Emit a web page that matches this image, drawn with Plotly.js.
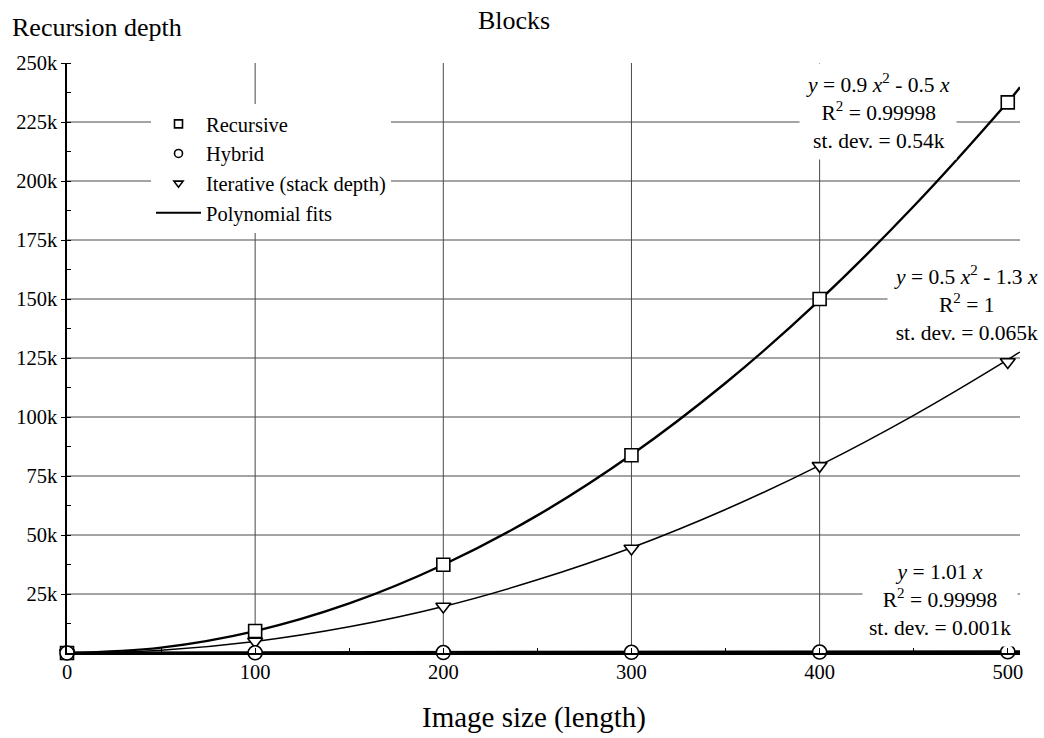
<!DOCTYPE html>
<html>
<head>
<meta charset="utf-8">
<script src="https://cdn.plot.ly/plotly-3.0.1.min.js"></script>
</head>
<body style="margin:0;background:#fff">
<div id="chart" style="width:1044px;height:738px"></div>
<script>
// ---- data ----
const sizes = [0, 100, 200, 300, 400, 500];
const recursive = [0, 9300, 37400, 83800, 150000, 233300];
const hybrid = [0, 101, 202, 303, 404, 505];
const iterative = [0, 4900, 19700, 44300, 79300, 123300];

const fitX = [0, 50, 100, 150, 200, 250, 300, 350, 400, 450, 500, 506.5];
const recursiveFit = [0, 2300, 9300, 21000, 37400, 58300, 84000, 114400, 149500, 189300, 233500, 239700];
const iterativeFit = [0, 1200, 4900, 11100, 19700, 31000, 44600, 60800, 79500, 100700, 124300, 127600];
const hybridFit = [0, 51, 101, 152, 202, 253, 303, 354, 404, 455, 505, 512];

const xTicks = [0, 100, 200, 300, 400, 500];
const yTickVals = [25000, 50000, 75000, 100000, 125000, 150000, 175000, 200000, 225000, 250000];
const yTickText = ['25k', '50k', '75k', '100k', '125k', '150k', '175k', '200k', '225k', '250k'];
const gridX = [100, 200, 300, 400];
const gridY = [25000, 50000, 75000, 100000, 125000, 150000, 175000, 200000, 225000];

const fitNotes = [
  {x: 878, y: 111, text: '<i>y</i> = 0.9 <i>x</i><sup>2</sup> - 0.5 <i>x</i><br>R<sup>2</sup> = 0.99998<br>st. dev. = 0.54k'},
  {x: 966, y: 303, text: '<i>y</i> = 0.5 <i>x</i><sup>2</sup> - 1.3 <i>x</i><br>R<sup>2</sup> = 1<br>st. dev. = 0.065k'},
  {x: 940, y: 600, text: '<i>y</i> = 1.01 <i>x</i><br>R<sup>2</sup> = 0.99998<br>st. dev. = 0.001k'}
];

// ---- layout geometry ----
const W = 1044, H = 738;
const mL = 67, mR = 24, mT = 63, mB = 85;
const pw = W - mL - mR, ph = H - mT - mB;
const px2x = p => (p - mL) / pw;
const py2y = p => (H - mB - p) / ph;

const FONT = 'Liberation Serif';
const mk = (sym, size) => ({symbol: sym, size: size, color: '#fff', line: {color: '#000', width: 1.6}});

const traces = [
  {x: fitX, y: hybridFit, mode: 'lines', line: {color: '#000', width: 3.2}, showlegend: false, hoverinfo: 'skip'},
  {x: fitX, y: iterativeFit, mode: 'lines', line: {color: '#000', width: 1.5, shape: 'spline'}, showlegend: false, hoverinfo: 'skip'},
  {x: fitX, y: recursiveFit, mode: 'lines', line: {color: '#000', width: 2.4, shape: 'spline'}, showlegend: false, hoverinfo: 'skip'},
  {x: sizes, y: iterative, mode: 'markers', marker: mk('triangle-down', 13), showlegend: false, cliponaxis: false},
  {x: sizes, y: recursive, mode: 'markers', marker: mk('square', 13), showlegend: false, cliponaxis: false},
  {x: sizes, y: hybrid, mode: 'markers', marker: mk('circle', 14), showlegend: false, cliponaxis: false},
  // legend entries
  {x: [null], y: [null], name: 'Recursive', mode: 'markers', marker: mk('square', 8), legendrank: 1},
  {x: [null], y: [null], name: 'Hybrid', mode: 'markers', marker: mk('circle', 8), legendrank: 2},
  {x: [null], y: [null], name: 'Iterative (stack depth)', mode: 'markers', marker: mk('triangle-down', 8), legendrank: 3},
  {x: [null], y: [null], name: 'Polynomial fits', mode: 'lines', line: {color: '#000', width: 2}, legendrank: 4}
];

const shapes = [];
gridX.forEach(v => shapes.push({type: 'line', layer: 'below', xref: 'x', yref: 'paper', x0: v, x1: v, y0: 0, y1: 1, line: {color: '#4a4a4a', width: 1}}));
gridY.forEach(v => shapes.push({type: 'line', layer: 'below', xref: 'paper', yref: 'y', x0: 0, x1: 1, y0: v, y1: v, line: {color: '#4a4a4a', width: 1}}));

const annotations = fitNotes.map(n => ({
  xref: 'paper', yref: 'paper', x: px2x(n.x), y: py2y(n.y), xanchor: 'center', yanchor: 'middle',
  text: n.text, showarrow: false, align: 'center', bgcolor: '#fff', borderpad: 6,
  font: {family: FONT, size: 21.5, color: '#000'}
}));
annotations.push({xref: 'paper', yref: 'paper', x: px2x(10), y: py2y(27), xanchor: 'left', yanchor: 'middle',
  text: 'Recursion depth', showarrow: false, font: {family: FONT, size: 26, color: '#000'}});
annotations.push({xref: 'paper', yref: 'paper', x: px2x(534), y: py2y(717), xanchor: 'center', yanchor: 'middle',
  text: 'Image size (length)', showarrow: false, font: {family: FONT, size: 29, color: '#000'}});

const layout = {
  width: W, height: H,
  margin: {l: mL, r: mR, t: mT, b: mB, pad: 0},
  paper_bgcolor: '#fff', plot_bgcolor: '#fff',
  font: {family: FONT, size: 20, color: '#000'},
  title: {text: 'Blocks', x: 514 / W, xanchor: 'center', xref: 'container', y: 1 - 20 / H, yanchor: 'middle', yref: 'container', font: {family: FONT, size: 26, color: '#000'}},
  xaxis: {range: [0, 506.5], tickvals: xTicks, ticktext: xTicks.map(String), showgrid: false, zeroline: false,
    showline: true, linecolor: '#000', linewidth: 1.5, ticks: 'inside', ticklen: 0, tickfont: {family: FONT, size: 20.5, color: '#000'},
    minor: {dtick: 50, tick0: 0, ticks: 'inside', ticklen: 5, tickcolor: '#000', showgrid: false}, fixedrange: true},
  yaxis: {range: [0, 250000], tickvals: yTickVals, ticktext: yTickText, showgrid: false, zeroline: false,
    showline: true, linecolor: '#000', linewidth: 1.5, ticks: 'outside', ticklen: 4, tickcolor: '#000', tickfont: {family: FONT, size: 20.5, color: '#000'},
    minor: {dtick: 12500, tick0: 0, ticks: 'inside', ticklen: 4, tickcolor: '#000', showgrid: false}, fixedrange: true},
  shapes: shapes,
  annotations: annotations,
  showlegend: true,
  legend: {x: px2x(151), y: py2y(104), xanchor: 'left', yanchor: 'top', bgcolor: '#fff', borderwidth: 0,
    font: {family: FONT, size: 20.5, color: '#000'}, tracegroupgap: 0, traceorder: 'normal', itemwidth: 45}
};

Plotly.newPlot('chart', traces, layout, {displayModeBar: false});
</script>
</body>
</html>
